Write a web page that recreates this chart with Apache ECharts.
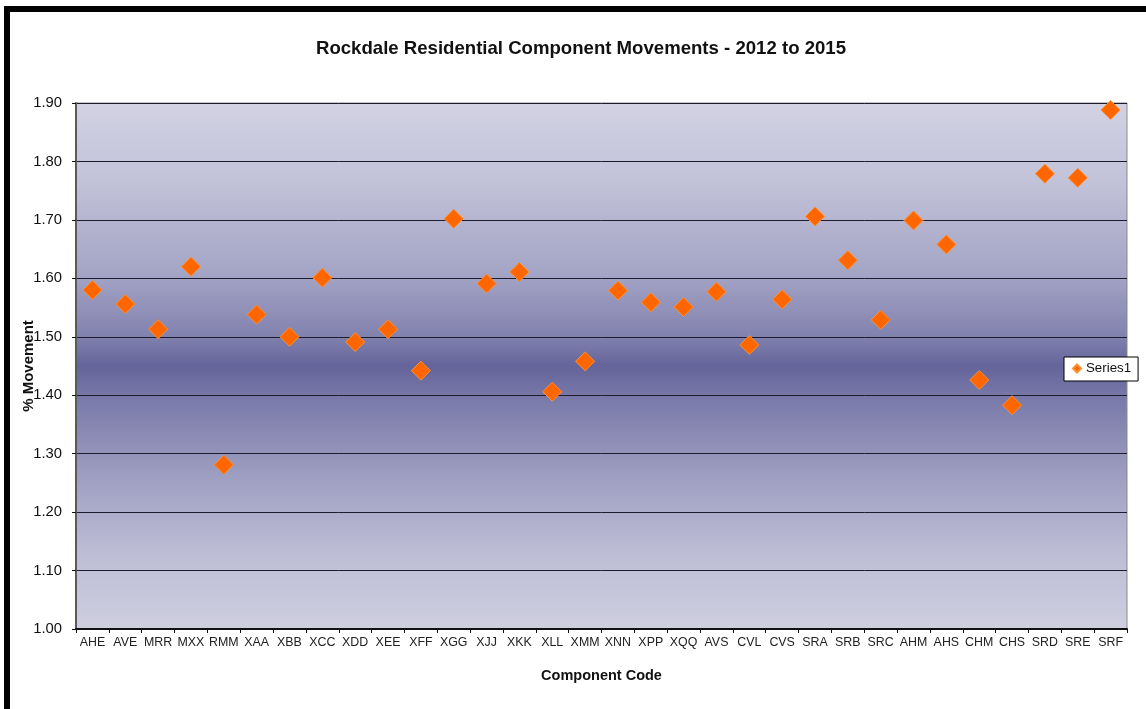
<!DOCTYPE html>
<html>
<head>
<meta charset="utf-8">
<title>Rockdale Residential Component Movements - 2012 to 2015</title>
<script src="https://cdn.jsdelivr.net/npm/echarts@6/dist/echarts.min.js"></script>
<style>
  html, body { margin: 0; padding: 0; background: #ffffff; }
  #chart { width: 1146px; height: 709px; }
</style>
</head>
<body>
<div id="chart"></div>
<script>
// Component codes along the horizontal axis
const componentCodes = [
  'AHE', 'AVE', 'MRR', 'MXX', 'RMM', 'XAA', 'XBB', 'XCC', 'XDD', 'XEE', 'XFF',
  'XGG', 'XJJ', 'XKK', 'XLL', 'XMM', 'XNN', 'XPP', 'XQQ', 'AVS', 'CVL', 'CVS',
  'SRA', 'SRB', 'SRC', 'AHM', 'AHS', 'CHM', 'CHS', 'SRD', 'SRE', 'SRF'
];

// % movement for each component, 2012 to 2015
const series1 = [
  1.58, 1.556, 1.513, 1.62, 1.281, 1.538, 1.50, 1.601, 1.491, 1.513, 1.442,
  1.702, 1.591, 1.611, 1.406, 1.458, 1.579, 1.559, 1.551, 1.577, 1.486, 1.564,
  1.706, 1.631, 1.529, 1.699, 1.658, 1.426, 1.383, 1.779, 1.772, 1.888
];

// Value axis range and step
const yMin = 1.0;
const yMax = 1.9;
const yStep = 0.1;

const FONT = '"Liberation Sans", Arial, Helvetica, sans-serif';

const chart = echarts.init(document.getElementById('chart'), null, { renderer: 'canvas' });

chart.setOption({
  backgroundColor: '#ffffff',
  animation: false,
  textStyle: { fontFamily: FONT },
  title: {
    text: 'Rockdale Residential Component Movements - 2012 to 2015',
    left: 576,
    textAlign: 'center',
    top: 34,
    textStyle: { fontFamily: FONT, fontSize: 18.6, fontWeight: 'bold', color: '#111' }
  },
  // heavy outer frame
  graphic: [{
    type: 'rect',
    z: 100,
    shape: { x: 7, y: 9, width: 1200, height: 800 },
    style: { fill: 'none', stroke: '#000', lineWidth: 6 }
  }],
  legend: {
    left: 1064,
    top: 357,
    orient: 'vertical',
    padding: [5, 7, 6, 8],
    backgroundColor: '#ffffff',
    borderColor: '#000',
    borderWidth: 1,
    borderRadius: 0,
    itemWidth: 8,
    itemHeight: 8,
    icon: 'diamond',
    textStyle: { fontFamily: FONT, fontSize: 13.3, color: '#111' },
    data: ['Series1']
  },
  grid: {
    show: true,
    left: 76,
    top: 103,
    right: 19,
    bottom: 80,
    borderColor: '#8a8a8a',
    borderWidth: 1,
    backgroundColor: new echarts.graphic.LinearGradient(0, 0, 0, 1, [
      { offset: 0.00, color: '#d2d2e3' },
      { offset: 0.15, color: '#c2c2d9' },
      { offset: 0.33, color: '#a3a3c5' },
      { offset: 0.44, color: '#8383b0' },
      { offset: 0.50, color: '#64649b' },
      { offset: 0.57, color: '#7c7cab' },
      { offset: 0.70, color: '#9c9cc0' },
      { offset: 0.85, color: '#bcbcd5' },
      { offset: 1.00, color: '#cfcfe0' }
    ]),
    containLabel: false
  },
  xAxis: {
    type: 'category',
    data: componentCodes,
    boundaryGap: true,
    name: 'Component Code',
    nameLocation: 'middle',
    nameGap: 39,
    nameMoveOverlap: false,
    nameTextStyle: { fontFamily: FONT, fontSize: 14.5, fontWeight: 'bold', color: '#111' },
    axisLine: { show: true, lineStyle: { color: '#111', width: 2 } },
    axisTick: { show: true, alignWithLabel: false, length: 4, lineStyle: { color: '#111' } },
    axisLabel: { fontFamily: FONT, fontSize: 12.4, color: '#222', margin: 8, interval: 0 },
    splitLine: { show: false }
  },
  yAxis: {
    type: 'value',
    min: yMin,
    max: yMax,
    interval: yStep,
    name: '% Movement',
    nameLocation: 'middle',
    nameRotate: 90,
    nameGap: 40,
    nameMoveOverlap: false,
    nameTextStyle: { fontFamily: FONT, fontSize: 15, fontWeight: 'bold', color: '#111' },
    axisLine: { show: true, lineStyle: { color: '#5a5a5a', width: 2 } },
    axisTick: { show: true, length: 4, lineStyle: { color: '#111' } },
    axisLabel: {
      fontFamily: FONT, fontSize: 14.8, color: '#111', margin: 14,
      formatter: v => v.toFixed(2)
    },
    splitLine: { show: true, lineStyle: { color: '#1c1c2c', width: 1 } }
  },
  series: [{
    name: 'Series1',
    type: 'scatter',
    data: series1,
    symbol: 'diamond',
    symbolSize: 19,
    itemStyle: { color: '#ff6600', borderColor: '#ff9030', borderWidth: 1, opacity: 1 }
  }]
});
</script>
</body>
</html>
